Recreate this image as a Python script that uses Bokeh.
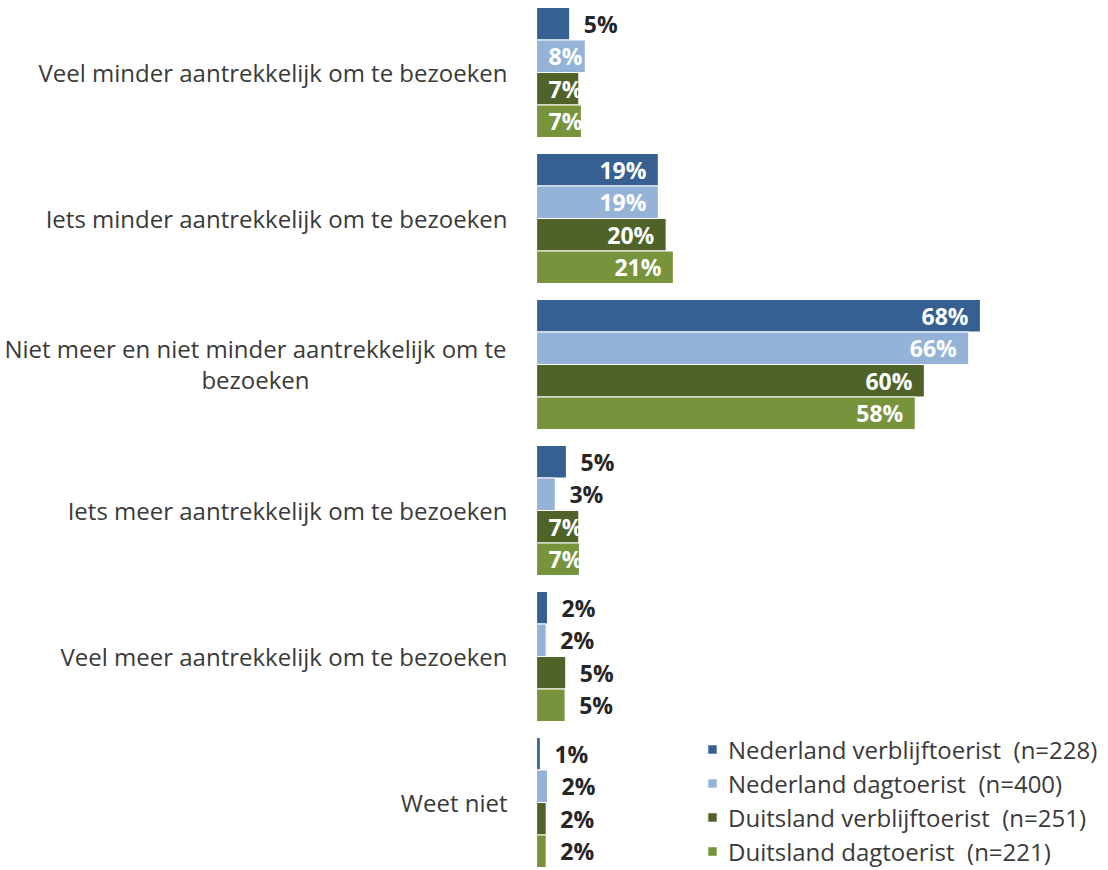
from bokeh.plotting import figure
from bokeh.models import ColumnDataSource, Range1d, Legend, LegendItem
from bokeh.core.properties import value
from bokeh.embed import file_html
from bokeh.resources import INLINE

categories = [
    "Veel minder aantrekkelijk om te bezoeken",
    "Iets minder aantrekkelijk om te bezoeken",
    "Niet meer en niet minder aantrekkelijk om te\nbezoeken",
    "Iets meer aantrekkelijk om te bezoeken",
    "Veel meer aantrekkelijk om te bezoeken",
    "Weet niet",
]
series = [
    "Nederland verblijftoerist  (n=228)",
    "Nederland dagtoerist  (n=400)",
    "Duitsland verblijftoerist  (n=251)",
    "Duitsland dagtoerist  (n=221)",
]
colors = ["#376092", "#95B3D7", "#4F6228", "#77933C"]

# bar lengths (percent), per series
nl_verblijf = [5.1, 18.7, 68.1, 4.6, 1.7, 0.6]
nl_dag = [7.5, 18.7, 66.3, 2.9, 1.5, 1.7]
de_verblijf = [6.5, 19.9, 59.5, 6.5, 4.5, 1.5]
de_dag = [6.9, 21.0, 58.1, 6.6, 4.4, 1.5]
values = [nl_verblijf, nl_dag, de_verblijf, de_dag]

# printed labels (percent)
lab_nl_verblijf = [5, 19, 68, 5, 2, 1]
lab_nl_dag = [8, 19, 66, 3, 2, 2]
lab_de_verblijf = [7, 20, 60, 7, 5, 2]
lab_de_dag = [7, 21, 58, 7, 5, 2]
labels = [lab_nl_verblijf, lab_nl_dag, lab_de_verblijf, lab_de_dag]

W, H = 1108, 870
AXIS_PX = 536
PX_PER_PCT = 6.52
PITCH = 146.0
FIRST_CENTER = 72.0
BAR_PX = 32.5

p = figure(width=W, height=H, output_backend="svg", toolbar_location=None,
           min_border=0, x_axis_type=None, y_axis_type=None,
           x_range=Range1d(-AXIS_PX / PX_PER_PCT, (W - AXIS_PX) / PX_PER_PCT),
           y_range=Range1d(-(H - FIRST_CENTER) / PITCH, FIRST_CENTER / PITCH))
p.outline_line_color = None
p.grid.visible = False
p.background_fill_color = "white"
p.border_fill_color = "white"

bh = BAR_PX / PITCH
FONT = "Open Sans"
legend_items = []
for j, (s, c, vals, labs) in enumerate(zip(series, colors, values, labels)):
    ys = [-k + (1.5 - j) * bh for k in range(len(categories))]
    src = ColumnDataSource(dict(y=ys, right=vals))
    r = p.hbar(y="y", left=0, right="right", height=bh, source=src,
               fill_color=c, line_color="white", line_width=1.2)
    legend_items.append(LegendItem(label=s, renderers=[r]))

    big_x, big_y, big_t = [], [], []
    sm_x, sm_y, sm_t = [], [], []
    out_x, out_y, out_t = [], [], []
    for k, (v, l) in enumerate(zip(vals, labs)):
        t = f"{l}%"
        if l >= 10:
            big_x.append(v); big_y.append(ys[k]); big_t.append(t)
        elif l >= 7:
            sm_x.append(0); sm_y.append(ys[k]); sm_t.append(t)
        else:
            out_x.append(v); out_y.append(ys[k]); out_t.append(t)
    common = dict(text_font=value(FONT), text_font_style="bold",
                  text_font_size="23px", text_baseline="middle")
    p.text(x=big_x, y=big_y, text=big_t, text_align="right", x_offset=-12,
           text_color="white", **common)
    p.text(x=sm_x, y=sm_y, text=sm_t, text_align="left", x_offset=12,
           text_color="white", **common)
    p.text(x=out_x, y=out_y, text=out_t, text_align="left", x_offset=14,
           text_color="#262626", **common)

# category labels
for k, cat in enumerate(categories):
    lines = cat.split("\n")
    if len(lines) == 1:
        p.text(x=[0], y=[-k], text=[cat], text_align="right", x_offset=-29,
               text_baseline="middle", text_font=value(FONT), text_font_size="24px",
               text_color="#3a3a3a")
    else:
        for i, ln in enumerate(lines):
            p.text(x=[0], y=[-k], text=[ln], text_align="center", x_offset=-281,
                   y_offset=-16 + 31 * i,
                   text_baseline="middle", text_font=value(FONT), text_font_size="24px",
                   text_color="#3a3a3a")

legend = Legend(items=legend_items, location=(706, 2), padding=0, margin=0,
                spacing=0, label_height=34, glyph_height=12, glyph_width=12,
                label_standoff=10, label_text_font=FONT, label_text_font_size="24px",
                label_text_color="#3a3a3a", border_line_alpha=0,
                background_fill_alpha=0)
p.add_layout(legend)

open("out.html", "w").write(file_html(p, INLINE))
